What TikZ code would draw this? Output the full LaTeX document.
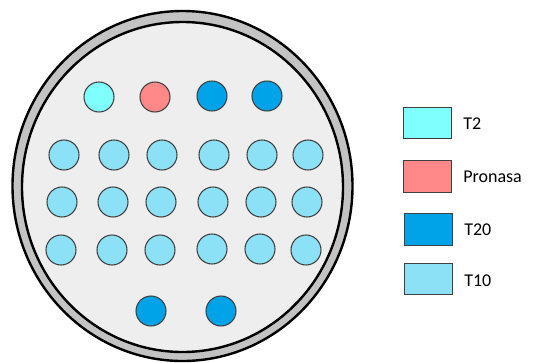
\documentclass[tikz,border=0pt]{standalone}
\usepackage{fontspec}
\setmainfont{Carlito}
\definecolor{ringgray}{HTML}{C3C3C3}
\definecolor{dishgray}{HTML}{EEEEEE}
\definecolor{ctwo}{HTML}{80FFFF}
\definecolor{cpron}{HTML}{FF8888}
\definecolor{ctwenty}{HTML}{00A2E8}
\definecolor{cten}{HTML}{8CE1F6}
\begin{document}
\begin{tikzpicture}[x=0.75pt,y=-0.75pt,
    well/.style={circle, draw=black!75, line width=0.8pt, minimum size=22.5pt, inner sep=0pt},
    key/.style={rectangle, draw=black!75, line width=0.8pt, minimum width=36.5pt, minimum height=23.5pt, inner sep=0pt},
    keytext/.style={anchor=west, inner sep=0pt, font=\fontsize{13.5}{16}\selectfont}]
      \useasboundingbox (0,0) rectangle (535,362);

      % Dish
      \draw[line width=1.8pt, fill=ringgray] (182.5,186) ellipse (170 and 175);
      \draw[line width=1.8pt, fill=dishgray] (182.5,187) ellipse (160.5 and 165);

      % Top row
      \node (a1) at (99,97) [well, fill=ctwo] {};
      \node (a2) at (155,97) [well, fill=cpron] {};
      \node (a3) at (212,96) [well, fill=ctwenty] {};
      \node (a4) at (267,96) [well, fill=ctwenty] {};

      % T10 rows
      \node (b1) at (64,155) [well, fill=cten] {};
      \node (b2) at (114,155) [well, fill=cten] {};
      \node (b3) at (162,155) [well, fill=cten] {};
      \node (b4) at (214,155) [well, fill=cten] {};
      \node (b5) at (262,155) [well, fill=cten] {};
      \node (b6) at (308,155) [well, fill=cten] {};

      \node (c1) at (62,202) [well, fill=cten] {};
      \node (c2) at (113,202) [well, fill=cten] {};
      \node (c3) at (161,202) [well, fill=cten] {};
      \node (c4) at (213,202) [well, fill=cten] {};
      \node (c5) at (261,202) [well, fill=cten] {};
      \node (c6) at (307,202) [well, fill=cten] {};

      \node (d1) at (61,250) [well, fill=cten] {};
      \node (d2) at (112,250) [well, fill=cten] {};
      \node (d3) at (160,250) [well, fill=cten] {};
      \node (d4) at (212,249) [well, fill=cten] {};
      \node (d5) at (260,249) [well, fill=cten] {};
      \node (d6) at (306,250) [well, fill=cten] {};

      % Bottom row
      \node (e1) at (151,311) [well, fill=ctwenty] {};
      \node (e2) at (221,311) [well, fill=ctwenty] {};

      % Legend
      \node (k1) at (427.5,123) [key, fill=ctwo] {};
      \node (k2) at (427.5,176.5) [key, fill=cpron] {};
      \node (k3) at (428.5,229.5) [key, fill=ctwenty] {};
      \node (k4) at (428.5,279) [key, fill=cten] {};
      \node (t1) at (463,124) [keytext] {T2};
      \node (t2) at (463,177) [keytext] {Pronasa};
      \node (t3) at (464,230) [keytext] {T20};
      \node (t4) at (464,281) [keytext] {T10};
    \end{tikzpicture}
\end{document}
